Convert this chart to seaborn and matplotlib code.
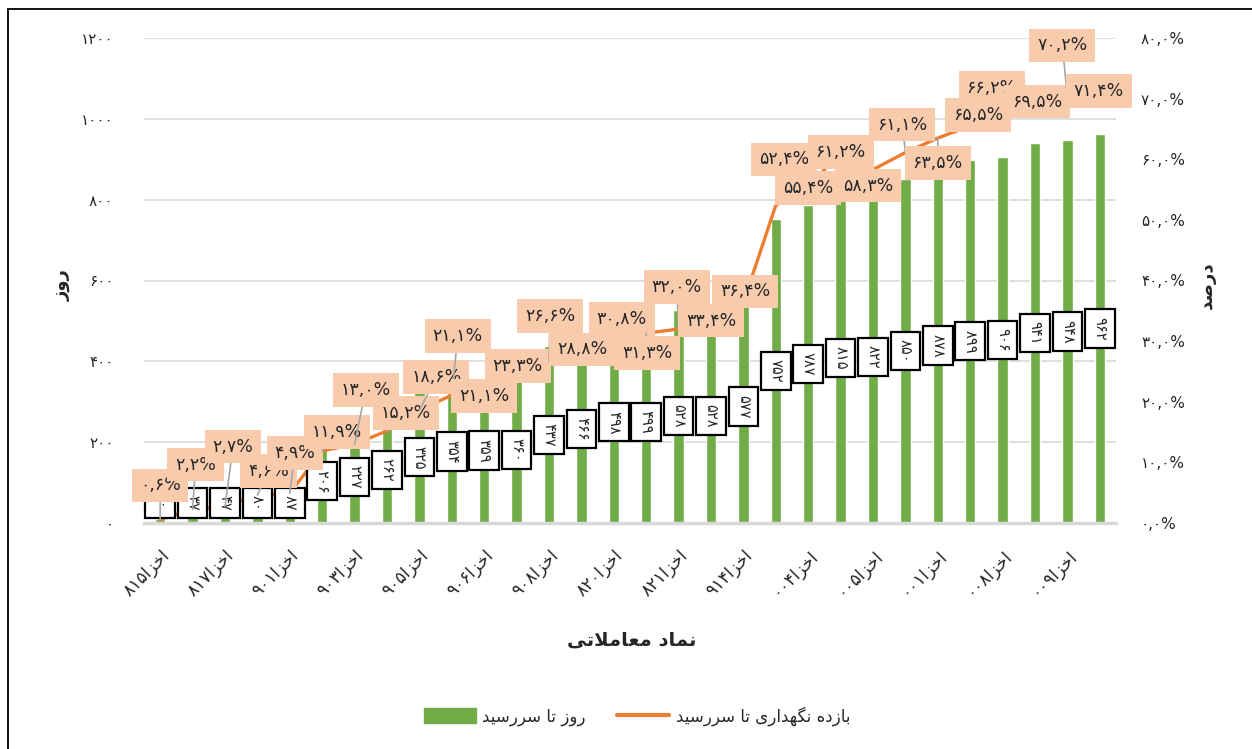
import matplotlib
matplotlib.use("Agg")
import matplotlib.pyplot as plt
import matplotlib.patches as mpatches
from matplotlib.lines import Line2D
import seaborn as sns
import pandas as pd

# داده‌ها
days = [10, 37, 47, 80, 87, 206, 227, 262, 325, 354, 359, 360, 437, 466, 498,
        499, 528, 528, 577, 752, 787, 815, 822, 850, 878, 899, 906, 941, 948, 962]
ret_pct = [0.6, 2.2, 2.7, 4.6, 4.9, 11.9, 13.0, 15.2, 18.6, 21.1, 21.1, 23.3, 26.6, 28.8, 30.8,
           31.3, 32.0, 33.4, 36.4, 52.4, 55.4, 61.2, 58.3, 61.1, 63.5, 65.5, 66.2, 69.5, 70.2, 71.4]
tick_names = ["اخزا815", "اخزا817", "اخزا901", "اخزا903", "اخزا905", "اخزا906", "اخزا908",
              "اخزا820", "اخزا821", "اخزا914", "اخزا004", "اخزا005", "اخزا001", "اخزا008", "اخزا009"]

# جابجایی برچسب‌های درصد (پیکسل)
label_offsets = [(0, 34), (3, 45), (8, 60), (11, 24), (5, 40), (15, 19), (11, 54), (19, 18),
                 (17, 33), (6, 59), (0, -1), (1, 16), (1, 46), (1, -1), (8, 17), (1, -20),
                 (-2, 42), (0, 0), (2, 11), (8, 46), (0, -1), (0, 0), (-5, -16), (-3, 28),
                 (0, -25), (8, 11), (-11, 34), (2, 0), (-5, 52), (-1, -1)]

GREEN = "#70AD47"
ORANGE = "#ED7D31"
PEACH = "#F8CBAD"
GRID = "#D9D9D9"

# شکل‌دهی ساده حروف فارسی برای matplotlib
FORMS = {
    'ا': ('\uFE8D', '\uFE8E', None, None),
    'ب': ('\uFE8F', '\uFE90', '\uFE91', '\uFE92'),
    'ت': ('\uFE95', '\uFE96', '\uFE97', '\uFE98'),
    'خ': ('\uFEA5', '\uFEA6', '\uFEA7', '\uFEA8'),
    'د': ('\uFEA9', '\uFEAA', None, None),
    'ر': ('\uFEAD', '\uFEAE', None, None),
    'ز': ('\uFEAF', '\uFEB0', None, None),
    'س': ('\uFEB1', '\uFEB2', '\uFEB3', '\uFEB4'),
    'ص': ('\uFEB9', '\uFEBA', '\uFEBB', '\uFEBC'),
    'ع': ('\uFEC9', '\uFECA', '\uFECB', '\uFECC'),
    'ل': ('\uFEDD', '\uFEDE', '\uFEDF', '\uFEE0'),
    'م': ('\uFEE1', '\uFEE2', '\uFEE3', '\uFEE4'),
    'ن': ('\uFEE5', '\uFEE6', '\uFEE7', '\uFEE8'),
    'ه': ('\uFEE9', '\uFEEA', '\uFEEB', '\uFEEC'),
    'و': ('\uFEED', '\uFEEE', None, None),
    'ی': ('\uFEEF', '\uFEF0', '\uFEF3', '\uFEF4'),
    'گ': ('\uFB92', '\uFB93', '\uFB94', '\uFB95'),
}
FA_DIGITS = str.maketrans("0123456789.", "۰۱۲۳۴۵۶۷۸۹,")


def joins_left(c):
    return c in FORMS and FORMS[c][2] is not None


def shape(word):
    out = []
    i = 0
    n = len(word)
    while i < n:
        c = word[i]
        if c not in FORMS:
            out.append(c)
            i += 1
            continue
        prev_j = i > 0 and joins_left(word[i - 1])
        if c == 'ل' and i + 1 < n and word[i + 1] == 'ا':
            out.append('\uFEFC' if prev_j else '\uFEFB')
            i += 2
            continue
        next_j = joins_left(c) and i + 1 < n and word[i + 1] in FORMS
        iso, fin, ini, med = FORMS[c]
        if prev_j and next_j:
            out.append(med)
        elif prev_j:
            out.append(fin)
        elif next_j:
            out.append(ini)
        else:
            out.append(iso)
        i += 1
    return "".join(out)


def fa(text):
    # متن راست‌به‌چپ: حروف شکل‌دهی و معکوس، ارقام به همان ترتیب
    text = text.translate(FA_DIGITS)
    runs, cur, is_num = [], "", None
    for ch in text:
        num = ch in "۰۱۲۳۴۵۶۷۸۹,%"
        if is_num is None or num == is_num:
            cur += ch
        else:
            runs.append((cur, is_num))
            cur = ch
        is_num = num
    if cur:
        runs.append((cur, is_num))
    parts = [r if num else shape(r)[::-1] for r, num in runs]
    return "".join(parts[::-1])


def fa_num(v, fmt="{:.0f}"):
    return fmt.format(v).translate(FA_DIGITS)


sns.set_theme(style="white")
plt.rcParams["font.family"] = ["DejaVu Sans"]

df = pd.DataFrame({"i": range(len(days)), "days": days, "ret": ret_pct})

fig = plt.figure(figsize=(12.52, 7.49), dpi=100)
ax = fig.add_axes([144 / 1252, 1 - 523 / 749, (1116 - 144) / 1252, (523 - 38) / 749])

sns.barplot(data=df, x="i", y="days", color=GREEN, width=0.32, saturation=1, ax=ax, zorder=2)
ax.set_xlim(-0.5, len(days) - 0.5)
ax.set_ylim(0, 1200)
ax.set_yticks(range(0, 1201, 200))
ax.set_yticklabels([fa_num(v) for v in range(0, 1201, 200)], fontsize=11)
ax.yaxis.grid(True, color=GRID, lw=1.2, zorder=0)
ax.set_axisbelow(True)
for s in ["top", "right", "left"]:
    ax.spines[s].set_visible(False)
ax.spines["bottom"].set_color(GRID)
ax.spines["bottom"].set_linewidth(2.5)
ax.tick_params(axis="y", length=0, pad=22)
ax.tick_params(axis="x", length=0, pad=17)
ax.set_xticks(range(0, len(days), 2))
ax.set_xticklabels([fa(t) for t in tick_names], rotation=45, ha="right",
                   rotation_mode="anchor", fontsize=12.5)
ax.set_xlabel("")
ax.set_ylabel("")

ax2 = ax.twinx()
sns.lineplot(data=df, x="i", y="ret", color=ORANGE, lw=2.4, ax=ax2, zorder=3)
ax2.set_ylim(0, 80)
ax2.set_yticks(range(0, 81, 10))
ax2.set_yticklabels([fa_num(v, "{:.1f}") + "%" for v in range(0, 81, 10)], fontsize=11)
ax2.tick_params(axis="y", length=0, pad=18)
for s in ["top", "right", "left", "bottom"]:
    ax2.spines[s].set_visible(False)
ax2.set_ylabel("")
ax2.set_xlabel("")

# برچسب ستون‌ها (وسط ستون، حداقل کمی بالاتر از محور)
for i, d in enumerate(days):
    y_lab = max(d / 2, 49) * 80 / 1200
    ax2.text(i, y_lab, fa_num(d), rotation=270, ha="center", va="center",
             fontsize=10.5, zorder=5,
             bbox=dict(boxstyle="square,pad=0.5", fc="white", ec="black", lw=1.6))

# برچسب‌های درصد
for i, (r, off) in enumerate(zip(ret_pct, label_offsets)):
    dist = (off[0] ** 2 + off[1] ** 2) ** 0.5
    arrow = dict(arrowstyle="-", color="#A6A6A6", lw=1.2, shrinkA=0, shrinkB=0) if dist > 20 else None
    ax2.annotate(fa_num(r, "{:.1f}") + "%", xy=(i, r), xytext=off, textcoords="offset pixels",
                 ha="center", va="center", fontsize=12.5, zorder=6 if i != 26 else 5.5,
                 arrowprops=arrow,
                 bbox=dict(boxstyle="square,pad=0.45", fc=PEACH, ec="none"))

fig.text(62 / 1252, 1 - 285 / 749, fa("روز"), rotation=90, ha="center", va="center",
         fontsize=13, fontweight="bold")
fig.text(1207 / 1252, 1 - 285 / 749, fa("درصد"), rotation=90, ha="center", va="center",
         fontsize=13, fontweight="bold")
fig.text(632 / 1252, 1 - 640 / 749, fa("نماد معاملاتی"), ha="center", va="center",
         fontsize=14, fontweight="bold")

handles = [mpatches.Patch(color=GREEN), Line2D([0], [0], color=ORANGE, lw=3)]
fig.legend(handles, [fa("روز تا سررسید"), fa("بازده نگهداری تا سررسید")],
           loc="center", bbox_to_anchor=(637 / 1252, 1 - 716 / 749), ncol=2, frameon=False,
           fontsize=12, handlelength=3.1, handleheight=1.0, handletextpad=0.4,
           columnspacing=1.9)

fig.patches.append(mpatches.Rectangle((8 / 1252, -0.01), 1.0, 1 - 9 / 749 + 0.01,
                                      transform=fig.transFigure, fill=False,
                                      ec="black", lw=1.3))

fig.savefig("out.png", dpi=100)
